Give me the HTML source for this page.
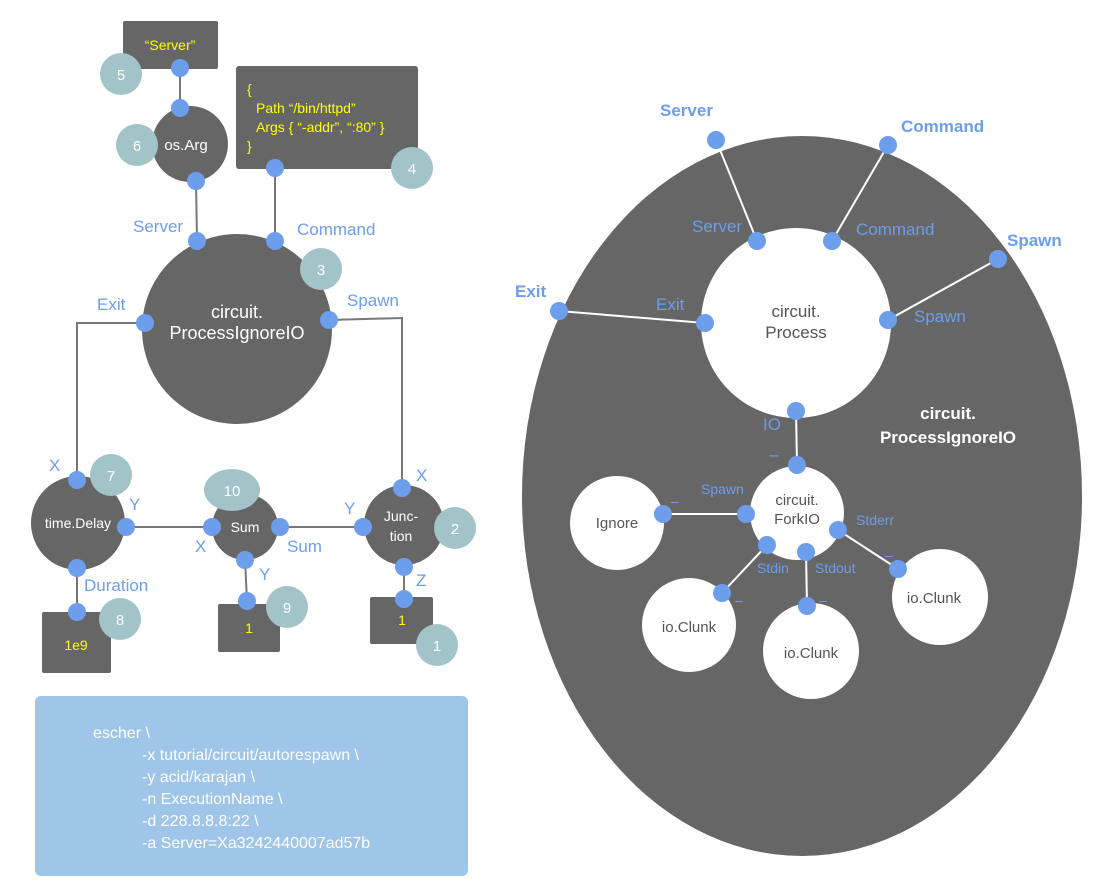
<!DOCTYPE html>
<html><head><meta charset="utf-8"><style>
html,body{margin:0;padding:0;background:#fff}
svg{display:block}
text{font-family:"Liberation Sans",sans-serif}
</style></head><body>
<svg width="1097" height="894" viewBox="0 0 1097 894" xmlns="http://www.w3.org/2000/svg">
<g stroke="#777" stroke-width="2" fill="none">
<line x1="180" y1="68" x2="180" y2="108"/>
<line x1="196" y1="181" x2="197" y2="241"/>
<line x1="275" y1="168" x2="275" y2="241"/>
<polyline points="145,323 77,323 77,480"/>
<polyline points="329,320 402,318 402,488"/>
<line x1="126" y1="527" x2="212" y2="527"/>
<line x1="280" y1="527" x2="363" y2="527"/>
<line x1="77" y1="568" x2="77" y2="612"/>
<line x1="245" y1="560" x2="247" y2="601"/>
<line x1="404" y1="567" x2="404" y2="599"/>
</g>
<g fill="#666">
<rect x="123" y="21" width="95" height="48" rx="2"/>
<rect x="236" y="66" width="182" height="103" rx="3"/>
<circle cx="190" cy="144" r="38"/>
<circle cx="237" cy="329" r="95"/>
<circle cx="78" cy="523" r="47"/>
<circle cx="245" cy="527" r="33"/>
<circle cx="404" cy="525" r="40"/>
<rect x="42" y="612" width="69" height="61" rx="2"/>
<rect x="218" y="604" width="62" height="48" rx="2"/>
<rect x="370" y="597" width="63" height="47" rx="2"/>
</g>
<g fill="#a2c4c9">
<circle cx="121" cy="74" r="21"/><circle cx="137" cy="145" r="21"/>
<circle cx="412" cy="168" r="21"/><circle cx="321" cy="269" r="21"/>
<circle cx="111" cy="475" r="21"/><ellipse cx="232" cy="490" rx="28" ry="21"/>
<circle cx="455" cy="528" r="21"/><circle cx="120" cy="619" r="21"/>
<circle cx="287" cy="607" r="21"/><circle cx="437" cy="645" r="21"/>
</g>
<g fill="#fff" font-size="15" text-anchor="middle">
<text x="121" y="80">5</text><text x="137" y="151">6</text><text x="412" y="174">4</text>
<text x="321" y="275">3</text><text x="111" y="481">7</text><text x="232" y="496">10</text>
<text x="455" y="534">2</text><text x="120" y="625">8</text><text x="287" y="613">9</text>
<text x="437" y="651">1</text>
<text x="186" y="150" font-size="15">os.Arg</text>
<text x="237" y="318" font-size="18">circuit.</text>
<text x="237" y="339" font-size="18">ProcessIgnoreIO</text>
<text x="78" y="528" font-size="14">time.Delay</text>
<text x="245" y="532" font-size="14">Sum</text>
<text x="401" y="521" font-size="14">Junc-</text>
<text x="401" y="541" font-size="14">tion</text>
</g>
<g fill="#ffff00" font-size="14">
<text x="170" y="50" text-anchor="middle">“Server”</text>
<text x="247" y="94">{</text>
<text x="256" y="113">Path “/bin/httpd”</text>
<text x="256" y="132">Args { “-addr”, “:80” }</text>
<text x="247" y="151">}</text>
<text x="76" y="650" text-anchor="middle">1e9</text>
<text x="249" y="633" text-anchor="middle">1</text>
<text x="402" y="625" text-anchor="middle">1</text>
</g>
<g fill="#6d9eeb" font-size="17">
<text x="133" y="232">Server</text><text x="297" y="235">Command</text>
<text x="97" y="310">Exit</text><text x="347" y="306">Spawn</text>
<text x="49" y="471">X</text><text x="129" y="510">Y</text>
<text x="84" y="591">Duration</text>
<text x="195" y="552">X</text><text x="287" y="552">Sum</text><text x="259" y="580">Y</text>
<text x="416" y="481">X</text><text x="344" y="514">Y</text><text x="416" y="586">Z</text>
</g>
<g fill="#6d9eeb">
<circle cx="180" cy="68" r="9"/><circle cx="180" cy="108" r="9"/><circle cx="196" cy="181" r="9"/>
<circle cx="275" cy="168" r="9"/><circle cx="197" cy="241" r="9"/><circle cx="275" cy="241" r="9"/>
<circle cx="145" cy="323" r="9"/><circle cx="329" cy="320" r="9"/>
<circle cx="77" cy="480" r="9"/><circle cx="126" cy="527" r="9"/><circle cx="77" cy="568" r="9"/>
<circle cx="77" cy="612" r="9"/>
<circle cx="212" cy="527" r="9"/><circle cx="280" cy="527" r="9"/><circle cx="245" cy="560" r="9"/>
<circle cx="247" cy="601" r="9"/>
<circle cx="402" cy="488" r="9"/><circle cx="363" cy="527" r="9"/><circle cx="404" cy="567" r="9"/>
<circle cx="404" cy="599" r="9"/>
</g>
<rect x="35" y="696" width="433" height="180" rx="6" fill="#9fc5e8"/>
<g fill="#fff" font-size="16">
<text x="93" y="738">escher \</text>
<text x="142" y="760">-x tutorial/circuit/autorespawn \</text>
<text x="142" y="782">-y acid/karajan \</text>
<text x="142" y="804">-n ExecutionName \</text>
<text x="142" y="826">-d 228.8.8.8:22 \</text>
<text x="142" y="848">-a Server=Xa3242440007ad57b</text>
</g>
<ellipse cx="802" cy="496" rx="280" ry="360" fill="#666"/>
<g stroke="#fff" stroke-width="2">
<line x1="716" y1="140" x2="757" y2="241"/>
<line x1="888" y1="145" x2="832" y2="241"/>
<line x1="559" y1="311" x2="705" y2="323"/>
<line x1="998" y1="259" x2="888" y2="320"/>
<line x1="796" y1="411" x2="797" y2="465"/>
<line x1="663" y1="514" x2="746" y2="514"/>
<line x1="767" y1="545" x2="722" y2="593"/>
<line x1="806" y1="552" x2="807" y2="606"/>
<line x1="838" y1="530" x2="898" y2="569"/>
</g>
<g fill="#fff">
<circle cx="796" cy="323" r="95"/>
<circle cx="797" cy="513" r="47"/>
<circle cx="617" cy="523" r="47"/>
<circle cx="689" cy="625" r="47"/>
<circle cx="811" cy="651" r="48"/>
<circle cx="940" cy="597" r="48"/>
</g>
<g fill="#6d9eeb">
<circle cx="716" cy="140" r="9"/><circle cx="888" cy="145" r="9"/><circle cx="559" cy="311" r="9"/><circle cx="998" cy="259" r="9"/>
<circle cx="757" cy="241" r="9"/><circle cx="832" cy="241" r="9"/><circle cx="705" cy="323" r="9"/><circle cx="888" cy="320" r="9"/>
<circle cx="796" cy="411" r="9"/><circle cx="797" cy="465" r="9"/>
<circle cx="746" cy="514" r="9"/><circle cx="663" cy="514" r="9"/>
<circle cx="767" cy="545" r="9"/><circle cx="722" cy="593" r="9"/>
<circle cx="806" cy="552" r="9"/><circle cx="807" cy="606" r="9"/>
<circle cx="838" cy="530" r="9"/><circle cx="898" cy="569" r="9"/>
</g>
<g fill="#6d9eeb" font-size="17" font-weight="bold">
<text x="660" y="116">Server</text><text x="901" y="132">Command</text>
<text x="515" y="297">Exit</text><text x="1007" y="246">Spawn</text>
</g>
<g fill="#6d9eeb" font-size="17">
<text x="692" y="232">Server</text><text x="856" y="235">Command</text>
<text x="656" y="310">Exit</text><text x="914" y="322">Spawn</text>
<text x="763" y="430">IO</text><text x="769" y="460">–</text>
</g>
<g fill="#6d9eeb" font-size="14">
<text x="701" y="494">Spawn</text><text x="671" y="506">–</text>
<text x="856" y="525">Stderr</text><text x="885" y="560">–</text>
<text x="757" y="573">Stdin</text><text x="735" y="605">–</text>
<text x="815" y="573">Stdout</text><text x="819" y="605">–</text>
</g>
<g fill="#555" font-size="15" text-anchor="middle">
<text x="796" y="317" font-size="17">circuit.</text>
<text x="796" y="338" font-size="17">Process</text>
<text x="797" y="505">circuit.</text>
<text x="797" y="524">ForkIO</text>
<text x="617" y="528">Ignore</text>
<text x="689" y="632">io.Clunk</text>
<text x="811" y="658">io.Clunk</text>
<text x="934" y="603">io.Clunk</text>
</g>
<g fill="#fff" font-size="17" font-weight="bold" text-anchor="middle">
<text x="948" y="419">circuit.</text>
<text x="948" y="443">ProcessIgnoreIO</text>
</g>
</svg>
</body></html>
